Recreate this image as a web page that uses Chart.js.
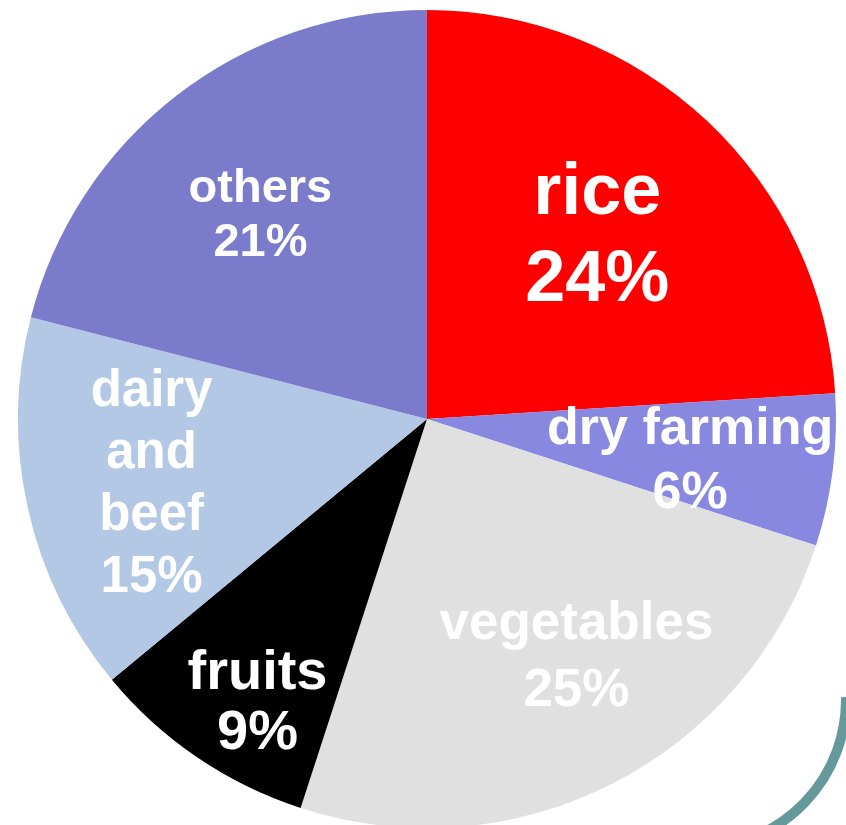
<!DOCTYPE html>
<html>
<head>
<meta charset="utf-8">
<script src="https://cdn.jsdelivr.net/npm/chart.js@4"></script>
<style>
    html, body { margin: 0; padding: 0; background: #ffffff; overflow: hidden; }
    #wrap { width: 846px; height: 825px; overflow: hidden; }
</style>
</head>
<body>
<div id="wrap"><canvas id="pieChart" width="846" height="830"></canvas></div>
<script>
// Dados do gráfico
const categorias = ['rice', 'dry farming', 'vegetables', 'fruits', ['dairy', 'and', 'beef'], 'others'];
const percentuais = [24, 6, 25, 9, 15, 21];

// Cores das fatias
const cores = ['#ff0000', '#8888e0', '#e0e0e0', '#000000', '#b2c8e4', '#7b7bcb'];

// Layout dos rótulos (fração do raio, ajuste de ângulo em graus, fonte, altura de linha)
const rotuloRaio = [0.62, 0.65, 0.68, 0.80, 0.69, 0.65];
const rotuloAjuste = [-1, 1, -5.5, -3, 0, -1];
const rotuloFonte = [72, 52, 53, 56, 51, 47];
const rotuloLinha = [87, 64, 67, 60, 62, 54];

// Plugin para escrever os rótulos dentro das fatias
const rotulosPlugin = {
    id: 'rotulos',
    afterDatasetsDraw(chart) {
        const ctx = chart.ctx;
        const meta = chart.getDatasetMeta(0);
        meta.data.forEach((arc, i) => {
            const p = arc.getProps(['x', 'y', 'startAngle', 'endAngle', 'outerRadius']);
            const meio = (p.startAngle + p.endAngle) / 2 + rotuloAjuste[i] * Math.PI / 180;
            const r = p.outerRadius * rotuloRaio[i];
            const cx = p.x + Math.cos(meio) * r;
            const cy = p.y + Math.sin(meio) * r;

            const nome = Array.isArray(categorias[i]) ? categorias[i] : [categorias[i]];
            const linhas = nome.concat([percentuais[i] + '%']);
            const tam = rotuloFonte[i];
            const lh = rotuloLinha[i];
            const capa = tam * 0.72;
            const alturaBloco = capa + lh * (linhas.length - 1);
            const primeiraBase = cy - alturaBloco / 2 + capa;

            ctx.save();
            ctx.fillStyle = '#ffffff';
            ctx.font = 'bold ' + tam + 'px "Liberation Sans", Arial, sans-serif';
            ctx.textAlign = 'center';
            ctx.textBaseline = 'alphabetic';
            linhas.forEach((txt, k) => {
                ctx.fillText(txt, cx, primeiraBase + k * lh);
            });
            ctx.restore();
        });
    }
};

// Plugin para o arco decorativo no canto inferior direito
const arcoPlugin = {
    id: 'arcoCanto',
    afterDraw(chart) {
        const ctx = chart.ctx;
        ctx.save();
        ctx.strokeStyle = '#669a9a';
        ctx.lineWidth = 10;
        ctx.beginPath();
        ctx.arc(698, 700, 148, -0.02, Math.PI / 2);
        ctx.stroke();
        ctx.restore();
    }
};

const ctx = document.getElementById('pieChart').getContext('2d');
new Chart(ctx, {
    type: 'pie',
    data: {
        labels: categorias,
        datasets: [{
            data: percentuais,
            backgroundColor: cores,
            borderWidth: 0,
            hoverOffset: 0
        }]
    },
    options: {
        responsive: false,
        animation: false,
        radius: 409,
        layout: {
            padding: { left: 18, right: 10, top: 10, bottom: 2 }
        },
        plugins: {
            legend: { display: false },
            tooltip: { enabled: false }
        }
    },
    plugins: [rotulosPlugin, arcoPlugin]
});
</script>
</body>
</html>
